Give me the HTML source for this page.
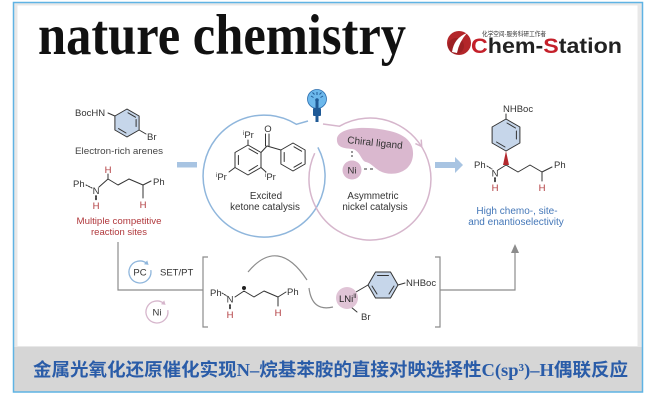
<!DOCTYPE html>
<html><head><meta charset="utf-8">
<style>
html,body{margin:0;padding:0;background:#fff;width:660px;height:400px;overflow:hidden}
svg{display:block}
</style></head><body>
<svg width="660" height="400" viewBox="0 0 660 400" xmlns="http://www.w3.org/2000/svg" font-family="Liberation Sans, Arial, sans-serif">
<rect width="660" height="400" fill="#fff"/>
<!-- frame -->
<rect x="13" y="2" width="630" height="390.5" fill="#d6d6d6"/>
<rect x="14" y="3" width="628" height="344" fill="#e8e8e8"/>
<rect x="17.5" y="5.5" width="620" height="340.5" fill="#fff"/>
<rect x="13.5" y="2.5" width="629" height="389.5" fill="none" stroke="#5fb3e4" stroke-width="1.5"/>

<!-- header -->
<text x="38" y="54" font-family="Liberation Serif, serif" font-weight="bold" font-size="57" textLength="368" lengthAdjust="spacingAndGlyphs" fill="#111">nature chemistry</text>
<circle cx="459" cy="43" r="12" fill="#b3262a"/>
<circle cx="456" cy="46" r="8" fill="#8e1c20" opacity="0.6"/>
<path d="M452,52 Q454,38 467,33 Q459,42 457,53 Z" fill="#fff"/>
<text x="482" y="36" font-family="Noto Sans CJK SC, sans-serif" font-size="6.5" fill="#333" textLength="64" lengthAdjust="spacingAndGlyphs">化学空间-服务科研工作者</text>
<text x="471" y="53" font-size="21" font-weight="bold" fill="#222" textLength="151" lengthAdjust="spacingAndGlyphs"><tspan fill="#c4202a">C</tspan>hem-<tspan fill="#c4202a">S</tspan>tation</text>

<g stroke="#333" stroke-width="1" fill="none" stroke-linecap="round" stroke-linejoin="round">
<!-- arene 1 -->
<polygon points="127,109 139.1,116 139.1,130 127,137 114.9,130 114.9,116" fill="#c6d6ea"/>
<line x1="128" y1="112.8" x2="135.5" y2="117.2"/>
<line x1="136.1" y1="119.5" x2="136.1" y2="126.5"/>
<line x1="126" y1="133" x2="118.5" y2="128.6"/>
<line x1="108" y1="113" x2="114.9" y2="116"/>
<line x1="139.1" y1="130" x2="146" y2="134"/>
<!-- substrate chain -->
<line x1="86" y1="185" x2="92" y2="188" stroke-dasharray="1.5,1.2"/>
<polyline points="99,187 108,179 118,185 129,179 143,185 151,181"/>
<line x1="108" y1="179" x2="108" y2="174"/>
<line x1="143" y1="185" x2="143" y2="198"/>
<line x1="96" y1="196" x2="96" y2="200" stroke-width="1.8" stroke-dasharray="1.2,1"/>

<!-- benzophenone -->
<polygon points="248,145 261,152.5 261,167.5 248,175 235,167.5 235,152.5"/>
<line x1="249" y1="148.8" x2="257.6" y2="153.7"/>
<line x1="257.6" y1="165.5" x2="249" y2="170.8"/>
<line x1="238.4" y1="155.5" x2="238.4" y2="164.5"/>
<line x1="261" y1="152.5" x2="267" y2="146"/>
<line x1="265.5" y1="146" x2="265.5" y2="134"/>
<line x1="269" y1="146" x2="269" y2="134"/>
<line x1="267" y1="146" x2="280.9" y2="150"/>
<polygon points="293,143 305.1,150 305.1,164 293,171 280.9,164 280.9,150"/>
<line x1="294" y1="146.8" x2="301.6" y2="151.2"/>
<line x1="301.6" y1="162.8" x2="294" y2="167.2"/>
<line x1="284.2" y1="152.5" x2="284.2" y2="161.5"/>
<line x1="248" y1="145" x2="248" y2="140"/>
<line x1="235" y1="167.5" x2="229" y2="172"/>
<line x1="261" y1="167.5" x2="266" y2="172"/>

<!-- product -->
<polygon points="506,119 519.9,127 519.9,143 506,151 492.1,143 492.1,127" fill="#c6d6ea"/>
<line x1="507" y1="123" x2="515.5" y2="128"/>
<line x1="516.4" y1="131" x2="516.4" y2="139"/>
<line x1="505" y1="147" x2="496.5" y2="142"/>
<line x1="506" y1="119" x2="506" y2="114"/>
<line x1="487" y1="166" x2="492" y2="169" stroke-dasharray="1.5,1.2"/>
<polyline points="498,170 506,165 518,172 530,165 542,172 552,167"/>
<line x1="542" y1="172" x2="542" y2="181"/>
<line x1="495" y1="178" x2="495" y2="182" stroke-width="1.8" stroke-dasharray="1.2,1"/>

<!-- intermediate -->
<line x1="222" y1="293" x2="227" y2="296" stroke-dasharray="1.5,1.2"/>
<polyline points="235,297 244,291 254,297 264,291 278,297 286,292"/>
<line x1="278" y1="297" x2="278" y2="306"/>
<line x1="230" y1="305" x2="230" y2="309" stroke-width="1.8" stroke-dasharray="1.2,1"/>
<polygon points="368,285 375.5,272 390.5,272 398,285 390.5,298 375.5,298" fill="#c6d6ea"/>
<line x1="377.5" y1="275.5" x2="388.5" y2="275.5"/>
<line x1="394" y1="286" x2="389" y2="294"/>
<line x1="377" y1="294" x2="372" y2="286"/>
<line x1="398" y1="285" x2="405" y2="283"/>
<line x1="356" y1="292" x2="368" y2="285"/>
<line x1="351" y1="307" x2="357" y2="312"/>
</g>
<polygon points="506,151 503,165 509,165" fill="#b3282d"/>
<circle cx="244" cy="288" r="2" fill="#222"/>

<!-- gray connectors -->
<g stroke="#8c8c8c" stroke-width="1.2" fill="none">
<polyline points="118,242 118,290 203,290"/>
<polyline points="208,257 203,257 203,327 208,327"/>
<polyline points="435,257 440,257 440,327 435,327"/>
<polyline points="440,290 515,290 515,251"/>
<path d="M248,272 Q278,236 307,280"/>
<path d="M309,288 Q312,312 333,307"/>
</g>
<polygon points="511,253 515,244 519,253" fill="#8c8c8c"/>

<!-- blue arrows -->
<rect x="177" y="162" width="20" height="5.5" fill="#a8c4e2"/>
<rect x="435" y="162" width="20" height="6" fill="#a8c4e2"/>
<polygon points="455,157 463,165 455,173" fill="#a8c4e2"/>

<!-- catalytic circles -->
<path d="M317.9,147.4 A61,61 0 1 1 296.3,124.3 L308,121" fill="none" stroke="#8fb6dc" stroke-width="1.5"/>
<path d="M323,124 L339.5,126.2 A61,61 0 1 1 314.7,153.2" fill="none" stroke="#d6b6cc" stroke-width="1.5"/>
<polyline points="415.4,143.6 421.7,146.5 421.2,139.6" fill="none" stroke="#d6b6cc" stroke-width="1.5"/>

<!-- bulb -->
<circle cx="317" cy="99" r="9.5" fill="#6cb8ec" stroke="#2a6cae" stroke-width="0.8"/>
<g stroke="#1f5a96" stroke-width="1">
<line x1="317" y1="92" x2="317" y2="95"/><line x1="311" y1="96" x2="313.5" y2="97.5"/><line x1="323" y1="96" x2="320.5" y2="97.5"/>
<line x1="312.5" y1="92.5" x2="314.5" y2="94.5"/><line x1="321.5" y1="92.5" x2="319.5" y2="94.5"/>
</g>
<circle cx="317" cy="100" r="1.8" fill="#1f5a96"/>
<rect x="315.5" y="101" width="3" height="8" fill="#1f5a96"/>
<rect x="313" y="108" width="8" height="8" rx="1" fill="#1f5a96"/>
<rect x="315.5" y="116" width="3" height="6" fill="#1f5a96"/>

<!-- chiral ligand blob -->
<path d="M337,138 C340,127 365,126 385,130 C402,133 414,140 413,155 C412,170 398,176 385,173 C376,171 372,163 366,162 C361,161 360,150 352,149 C344,148 336,148 337,138 Z" fill="#dab8cf"/>
<circle cx="352" cy="170" r="9.5" fill="#dab8cf"/>
<g stroke="#333" stroke-width="1"><line x1="352" y1="151" x2="352" y2="158" stroke-dasharray="2,2"/><line x1="364" y1="169" x2="375" y2="169" stroke-dasharray="3,3"/></g>
<text x="375" y="146" font-size="10" fill="#333" text-anchor="middle" transform="rotate(6 375 143)">Chiral ligand</text>
<text x="352" y="173.5" font-size="9.5" fill="#333" text-anchor="middle">Ni</text>

<!-- small cycles -->
<path d="M150.8,270.1 A11,11 0 1 1 147.1,263.6" fill="none" stroke="#8fb6dc" stroke-width="1.3"/>
<polygon points="148.6,264.9 144,264.2 147.2,260.4" fill="#8fb6dc"/>
<path d="M167.8,310.1 A11,11 0 1 1 164.1,303.6" fill="none" stroke="#d6b6cc" stroke-width="1.3"/>
<polygon points="165.6,304.9 161,304.2 164.2,300.4" fill="#d6b6cc"/>
<text x="140" y="275.5" font-size="9.5" fill="#333" text-anchor="middle">PC</text>
<text x="157" y="315.5" font-size="9.5" fill="#333" text-anchor="middle">Ni</text>
<text x="160" y="275.5" font-size="9.5" fill="#333">SET/PT</text>

<!-- LNi -->
<circle cx="347" cy="298" r="11" fill="#e0c4d6"/>
<text x="339" y="302" font-size="9.5" fill="#222">LNi<tspan font-size="6" dy="-4">II</tspan></text>

<!-- texts -->
<g font-size="9.5" fill="#333">
<text x="75" y="116">BocHN</text>
<text x="147" y="140">Br</text>
<text x="75" y="154" textLength="88" lengthAdjust="spacingAndGlyphs" fill="#444">Electron-rich arenes</text>
<text x="73" y="187">Ph</text>
<text x="96" y="194" text-anchor="middle">N</text>
<text x="153" y="185">Ph</text>
<text x="268" y="132" text-anchor="middle">O</text>
<text x="243" y="138"><tspan font-size="6" dy="-3">i</tspan><tspan dy="3">Pr</tspan></text>
<text x="216" y="180"><tspan font-size="6" dy="-3">i</tspan><tspan dy="3">Pr</tspan></text>
<text x="265" y="180"><tspan font-size="6" dy="-3">i</tspan><tspan dy="3">Pr</tspan></text>
<text x="266" y="199" text-anchor="middle" font-size="9.8">Excited</text>
<text x="265" y="210" text-anchor="middle" font-size="9.8">ketone catalysis</text>
<text x="373" y="199" text-anchor="middle" font-size="9.8">Asymmetric</text>
<text x="375" y="210" text-anchor="middle" font-size="9.8">nickel catalysis</text>
<text x="503" y="112">NHBoc</text>
<text x="474" y="168">Ph</text>
<text x="495" y="176.5" text-anchor="middle">N</text>
<text x="554" y="168">Ph</text>
<text x="210" y="296">Ph</text>
<text x="230" y="302.5" text-anchor="middle">N</text>
<text x="287" y="295">Ph</text>
<text x="406" y="286">NHBoc</text>
<text x="361" y="320">Br</text>
</g>
<g font-size="9.5" fill="#b0383c" text-anchor="middle">
<text x="108" y="173">H</text>
<text x="96" y="209">H</text>
<text x="143" y="208">H</text>
<text x="495" y="191">H</text>
<text x="542" y="191">H</text>
<text x="230" y="318">H</text>
<text x="278" y="316">H</text>
<text x="119" y="224" textLength="85" lengthAdjust="spacingAndGlyphs">Multiple competitive</text>
<text x="119" y="235">reaction sites</text>
</g>
<g font-size="10" fill="#4477b8" text-anchor="middle">
<text x="517" y="214">High chemo-, site-</text>
<text x="516" y="225">and enantioselectivity</text>
</g>

<!-- title -->
<text x="33" y="376" font-family="Liberation Serif, Noto Sans CJK SC, sans-serif" font-weight="bold" font-size="18" fill="#2a5ca8" textLength="595" lengthAdjust="spacingAndGlyphs">金属光氧化还原催化实现N–烷基苯胺的直接对映选择性C(sp³)–H偶联反应</text>
</svg>
</body></html>
